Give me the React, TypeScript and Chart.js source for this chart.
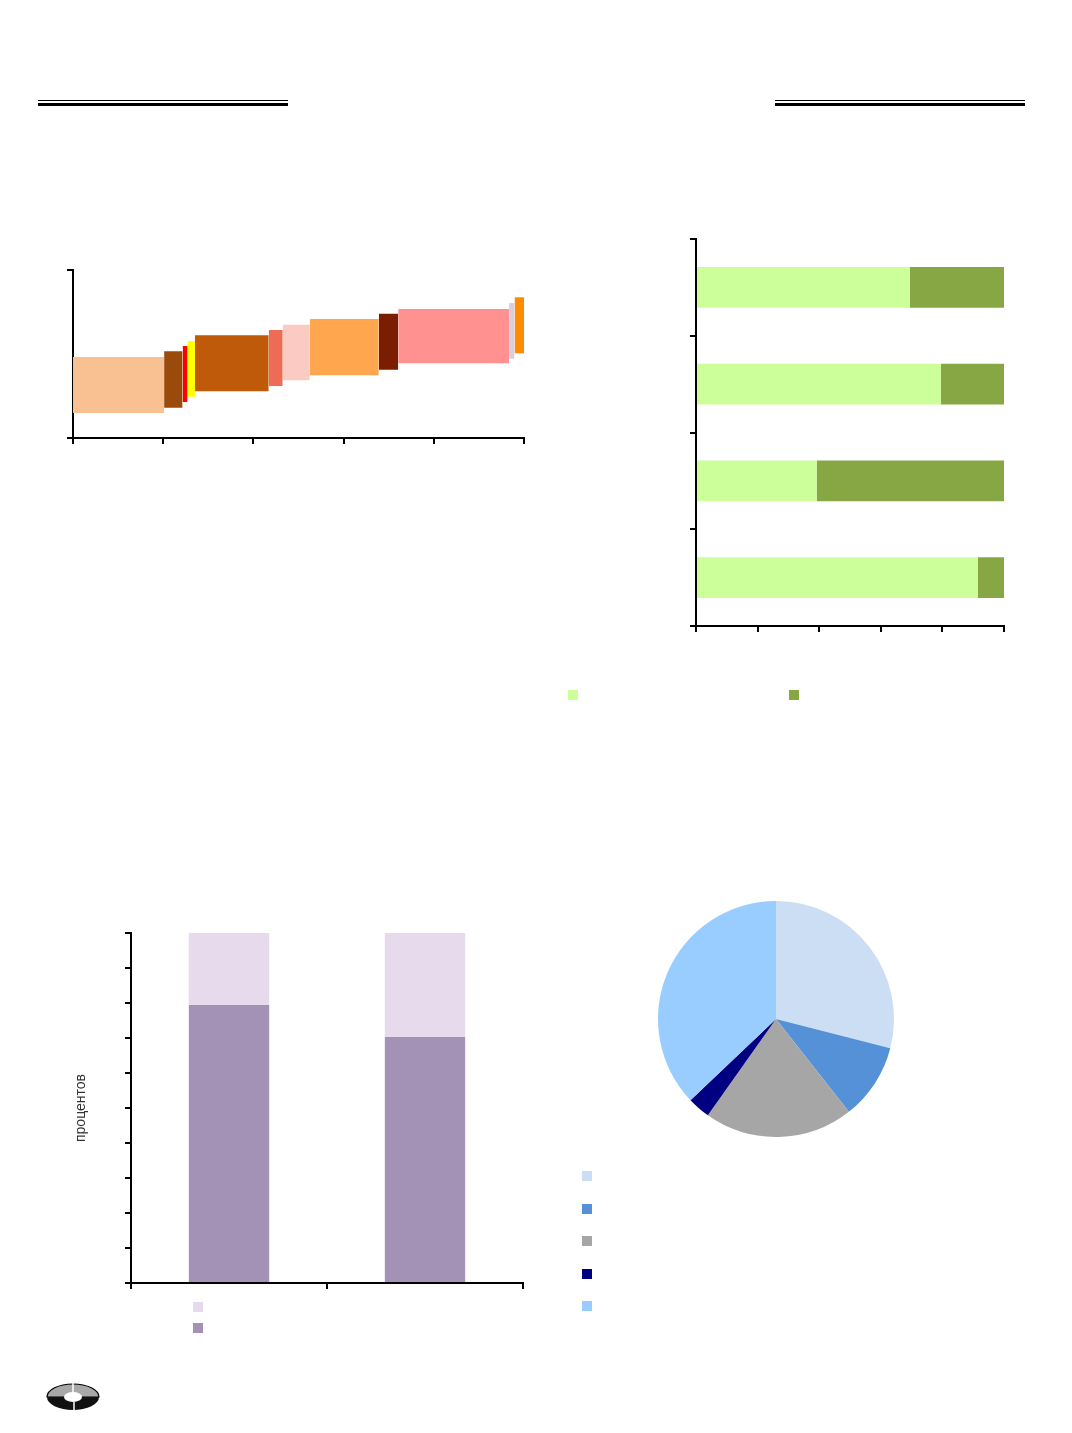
import { useEffect, useRef } from "react";
import { Chart, registerables } from "chart.js";
import type { ChartConfiguration } from "chart.js";

Chart.register(...registerables);

// top-left: stepped cost blocks (x = share, y = band)
const blockStart = [0, 20.2, 24.3, 25.4, 27.05, 43.4, 46.5, 52.5, 67.8, 72.1, 96.7, 97.9];
const blockEnd = [20.2, 24.3, 25.4, 27.05, 43.4, 46.5, 52.5, 67.8, 72.1, 96.7, 97.9, 100];
const blockLow = [4.46, 5.41, 6.43, 7.38, 8.34, 9.29, 10.3, 11.2, 12.2, 13.34, 14.16, 15.13];
const blockHigh = [14.46, 15.48, 16.43, 17.32, 18.34, 19.29, 20.23, 21.25, 22.2, 23.04, 24.11, 25.13];
const blockColors = [
  "#F9C192", "#9A4A0B", "#FF0000", "#FFFF00", "#C05A0B", "#EE6B55",
  "#FBCBC3", "#FFA64F", "#7B1D00", "#FF9191", "#DACDE0", "#FF8C00",
];

// top-right: horizontal 100% bars
const rowLabels = ["1", "2", "3", "4"];
const rowLight = [69.4, 79.5, 39.2, 91.5];
const rowDark = [30.6, 20.5, 60.8, 8.5];

// bottom-left: two 100% columns
const colLabels = ["1", "2"];
const colDark = [79.4, 70.3];
const colLight = [20.6, 29.7];

// bottom-right: pie
const pieValues = [29.0, 10.4, 20.4, 3.1, 37.1];
const pieColors = ["#CCDEF3", "#5591D6", "#A6A6A6", "#000080", "#99CCFF"];

const PAD = 8;
const NUDGE = 1;

const axis = (size: number, horizontal: boolean) => ({
  border: { display: true, color: "#000", width: 2 },
  grid: { drawOnChartArea: false, drawTicks: true, tickLength: 6, color: "#000", lineWidth: 2 },
  ticks: { display: false },
  afterFit: (scale: any) => {
    if (horizontal) scale.height = size;
    else scale.width = size;
  },
});

const common = {
  responsive: true,
  maintainAspectRatio: false,
  animation: false as const,
  plugins: { legend: { display: false }, tooltip: { enabled: false } },
  events: [] as any[],
};

function ChartBox({
  left, top, width, height, config,
}: { left: number; top: number; width: number; height: number; config: () => ChartConfiguration }) {
  const canvasRef = useRef<HTMLCanvasElement | null>(null);

  useEffect(() => {
    const canvas = canvasRef.current;
    if (!canvas) return;
    const chart = new Chart(canvas, config());
    return () => {
      chart.destroy();
    };
  }, []);

  return (
    <div style={{ position: "absolute", left, top, width, height }}>
      <canvas ref={canvasRef} />
    </div>
  );
}

const blocksConfig = (): ChartConfiguration => ({
  type: "line",
  data: {
    datasets: blockStart.map((x0, i) => ({
      data: [
        { x: x0, y: blockHigh[i] },
        { x: blockEnd[i], y: blockHigh[i] },
      ],
      fill: { value: blockLow[i] },
      backgroundColor: blockColors[i],
      borderColor: "rgba(0,0,0,0)",
      borderWidth: 0,
      pointRadius: 0,
    })),
  },
  options: {
    ...common,
    layout: { padding: PAD },
    scales: {
      x: { type: "linear", min: 0, max: 100, ...axis(10, true), ticks: { display: false, stepSize: 20 } },
      y: { type: "linear", min: 0, max: 30, ...axis(10, false), ticks: { display: false, stepSize: 30 } },
    },
  } as any,
});

const rowsConfig = (): ChartConfiguration => ({
  type: "bar",
  data: {
    labels: rowLabels,
    datasets: [
      { data: rowLight, backgroundColor: "#CCFF99" },
      { data: rowDark, backgroundColor: "#86A744" },
    ],
  },
  options: {
    ...common,
    indexAxis: "y",
    layout: { padding: PAD },
    datasets: { bar: { categoryPercentage: 0.42, barPercentage: 1, borderWidth: 0 } },
    scales: {
      x: { stacked: true, min: 0, max: 100, ...axis(10, true), ticks: { display: false, stepSize: 20 } },
      y: { stacked: true, offset: true, ...axis(10, false), grid: { ...axis(10, false).grid, offset: true } },
    },
  } as any,
});

const colsConfig = (): ChartConfiguration => ({
  type: "bar",
  data: {
    labels: colLabels,
    datasets: [
      { data: colDark, backgroundColor: "#A492B6" },
      { data: colLight, backgroundColor: "#E6DAEC" },
    ],
  },
  options: {
    ...common,
    layout: { padding: PAD },
    datasets: { bar: { categoryPercentage: 0.41, barPercentage: 1, borderWidth: 0 } },
    scales: {
      x: { stacked: true, offset: true, ...axis(10, true), grid: { ...axis(10, true).grid, offset: true } },
      y: {
        stacked: true,
        min: 0,
        max: 100,
        ...axis(60, false),
        ticks: { display: false, stepSize: 10 },
        title: {
          display: true,
          text: "процентов",
          color: "#333",
          padding: { top: 2, bottom: 2 },
          font: { family: "'Liberation Sans', Arial, sans-serif", size: 14 },
        },
      },
    },
  } as any,
});

const pieConfig = (): ChartConfiguration => ({
  type: "pie",
  data: {
    labels: ["1", "2", "3", "4", "5"],
    datasets: [{ data: pieValues, backgroundColor: pieColors, borderWidth: 0, hoverOffset: 0 }],
  },
  options: { ...common, radius: 118 } as any,
});

function Square({ x, y, color }: { x: number; y: number; color: string }) {
  return <div style={{ position: "absolute", left: x, top: y, width: 10, height: 10, background: color }} />;
}

function Rule({ x, w }: { x: number; w: number }) {
  return (
    <>
      <div style={{ position: "absolute", left: x, top: 100, width: w, height: 1, background: "#000" }} />
      <div style={{ position: "absolute", left: x, top: 103, width: w, height: 3, background: "#000" }} />
    </>
  );
}

export default function App() {
  return (
    <div
      style={{
        position: "absolute",
        left: 0,
        top: 0,
        width: 1072,
        height: 1433,
        background: "#fff",
        overflow: "hidden",
        fontFamily: "'Liberation Sans', Arial, sans-serif",
      }}
    >
      <Rule x={38} w={250} />
      <Rule x={775} w={250} />

      <ChartBox left={72 - 10 - PAD + NUDGE} top={269 - PAD + NUDGE} width={451 + 10 + 2 * PAD} height={168 + 10 + 2 * PAD} config={blocksConfig} />
      <ChartBox left={695 - 10 - PAD + NUDGE} top={238 - PAD + NUDGE} width={308 + 10 + 2 * PAD} height={387 + 10 + 2 * PAD} config={rowsConfig} />
      <Square x={568} y={690} color="#CCFF99" />
      <Square x={789} y={690} color="#86A744" />

      <ChartBox left={130 - 60 - PAD + NUDGE} top={932 - PAD + NUDGE} width={392 + 60 + 2 * PAD} height={350 + 10 + 2 * PAD} config={colsConfig} />
      <Square x={193} y={1302} color="#E6DAEC" />
      <Square x={193} y={1323} color="#A492B6" />

      <ChartBox left={776 - 130} top={1019 - 130} width={260} height={260} config={pieConfig} />
      {[1171, 1204, 1236, 1269, 1301].map((y, i) => (
        <Square key={y} x={582} y={y} color={pieColors[i]} />
      ))}

      <svg style={{ position: "absolute", left: 44, top: 1381 }} width={60} height={34} viewBox="0 0 60 34">
        <path d="M3 16 A26 13 0 0 1 55 16 Z" fill="#A8A8A8" stroke="#000" strokeWidth={1.2} />
        <path d="M3 16 A26 13 0 0 0 55 16 Z" fill="#111" />
        <ellipse cx={29} cy={16} rx={9} ry={5} fill="#fff" />
        <line x1={29} y1={2} x2={29} y2={11} stroke="#fff" strokeWidth={1.5} />
        <line x1={30} y1={21} x2={30} y2={30} stroke="#fff" strokeWidth={1.5} />
      </svg>
    </div>
  );
}
